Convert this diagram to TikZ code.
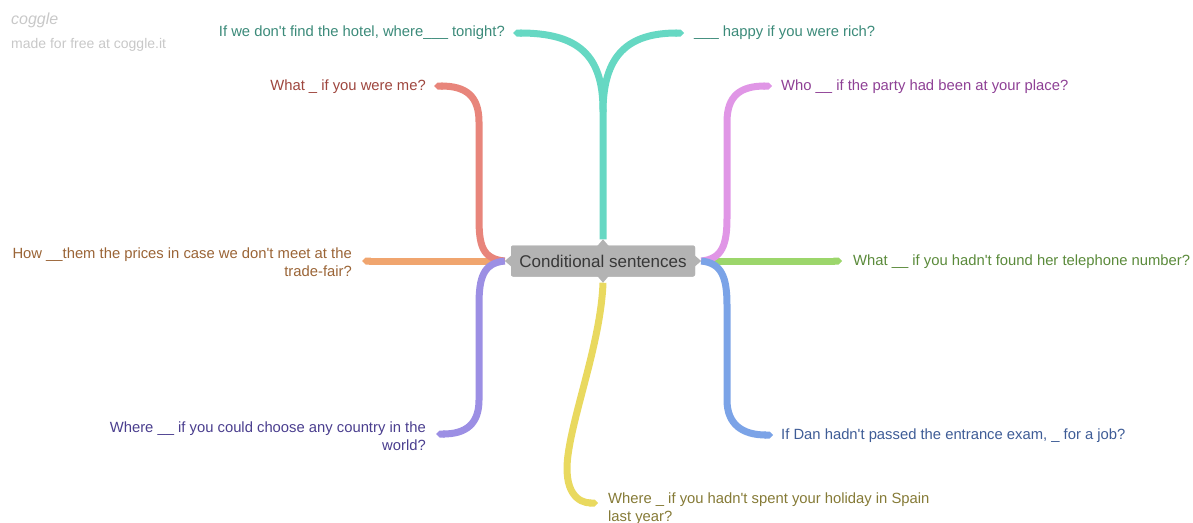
\documentclass[tikz,border=0pt]{standalone}
\usepackage{fontspec}
\setmainfont{Liberation Sans}[Ligatures=TeXOff]
\usetikzlibrary{arrows.meta,calc}

% branch colours and their darker text tones
\definecolor{brTeal}{HTML}{66D8C3}
\definecolor{txTeal}{HTML}{3B8A79}
\definecolor{brRed}{HTML}{E8857B}
\definecolor{txRed}{HTML}{9E463E}
\definecolor{brOrange}{HTML}{F0A56F}
\definecolor{txOrange}{HTML}{9A6436}
\definecolor{brPurple}{HTML}{9C8FE4}
\definecolor{txPurple}{HTML}{4A3E8E}
\definecolor{brYellow}{HTML}{E9D95F}
\definecolor{txYellow}{HTML}{857A36}
\definecolor{brPink}{HTML}{E096E6}
\definecolor{txPink}{HTML}{8E4095}
\definecolor{brGreen}{HTML}{9CD66B}
\definecolor{txGreen}{HTML}{5A8A3A}
\definecolor{brBlue}{HTML}{7BA3E7}
\definecolor{txBlue}{HTML}{3E5C96}
\definecolor{boxGray}{HTML}{B3B3B3}
\definecolor{boxText}{HTML}{383838}
\definecolor{markGray}{HTML}{C8C8C8}

\begin{document}
\begin{tikzpicture}[x=1pt,y=-1pt,
  branch/.style={line width=7pt,line cap=butt,-{Triangle Cap[]}},
  lbl/.style={inner sep=0pt,font=\fontsize{14.8}{18}\selectfont},
  topic/.style={fill=boxGray,rounded corners=2pt,minimum width=184pt,
    minimum height=31pt,inner sep=0pt,text=boxText,font=\fontsize{17}{19}\selectfont},
  notch/.style={fill=boxGray},
  wmark/.style={inner sep=0pt,anchor=west,text=markGray}]
\useasboundingbox (0,0) rectangle (1193,522);

% watermark
\node[wmark,font=\fontsize{16}{18}\selectfont\itshape] (wm1) at (11,20) {coggle};
\node[wmark,font=\fontsize{14}{16}\selectfont] (wm2) at (11,45) {made for free at coggle.it};

% central topic
\node[topic] (c) at (603,261) {Conditional sentences};
\coordinate (cn) at ($(c.north)+(0,-6)$);
\coordinate (cs) at ($(c.south)+(0,6)$);
\coordinate (cw) at ($(c.west)+(-6,0)$);
\coordinate (ce) at ($(c.east)+(6,0)$);

% labels
\node[lbl,anchor=east,text=txTeal] (l1) at (505,33) {If we don't find the hotel, where\_\_\_ tonight?};
\node[lbl,anchor=west,text=txTeal] (l2) at (694,33) {\_\_\_ happy if you were rich?};
\node[lbl,anchor=east,text=txRed] (l3) at (426,87) {What \_ if you were me?};
\node[lbl,anchor=west,text=txPink] (l4) at (781,87) {Who \_\_ if the party had been at your place?};
\node[lbl,anchor=east,align=right,text=txOrange] (l5) at (352,262) {How \_\_them the prices in case we don't meet at the\\trade-fair?};
\node[lbl,anchor=west,text=txGreen] (l6) at (853,262) {What \_\_ if you hadn't found her telephone number?};
\node[lbl,anchor=east,align=right,text=txPurple] (l7) at (426,436) {Where \_\_ if you could choose any country in the\\world?};
\node[lbl,anchor=west,text=txBlue] (l8) at (781,436) {If Dan hadn't passed the entrance exam, \_ for a job?};
\node[lbl,anchor=west,align=left,text=txYellow] (l9) at (608,509) {Where \_ if you hadn't spent your holiday in Spain\\last year?};

% branch tips
\coordinate (t1) at (513,33);
\coordinate (t2) at (684,33);
\coordinate (t3) at (434,86);
\coordinate (t4) at (772,86);
\coordinate (t5) at (362,261);
\coordinate (t6) at (842,261);
\coordinate (t7) at (436,434);
\coordinate (t8) at (773,435);
\coordinate (t9) at (598,503);

% branches
\draw[branch,brOrange] ($(cw)+(-2,0)$) -- (t5);
\draw[branch,brRed] (cw) .. controls (482,259) and (479,245) .. (479,218)
  -- (479,122) .. controls (479,96) and (466,86) .. (t3);
\draw[branch,brPurple] (cw) .. controls (483,263) and (479,278) .. (479,305)
  -- (479,400) .. controls (479,424) and (466,434) .. (t7);
\draw[branch,brGreen] ($(ce)+(12,0)$) -- (t6);
\draw[branch,brPink] (ce) .. controls (722,259) and (727,245) .. (727,218)
  -- (727,122) .. controls (727,96) and (740,86) .. (t4);
\draw[branch,brBlue] (ce) .. controls (722,263) and (727,278) .. (727,305)
  -- (727,400) .. controls (727,424) and (742,435) .. (t8);
\draw[branch,brTeal] (cn) -- (603,110) .. controls (603,55) and (578,33) .. (t1);
\draw[branch,brTeal] (603,112) .. controls (603,55) and (628,33) .. (t2);
\draw[branch,brYellow] (cs) .. controls (601,340) and (574,410) .. (568,455)
  .. controls (563,492) and (578,503) .. (t9);

% topic on top, with its four notches
\node[topic] at (c) {Conditional sentences};
\fill[notch] ($(c.north)+(-6,1)$) -- (cn) -- ($(c.north)+(6,1)$) -- cycle;
\fill[notch] ($(c.south)+(-6,-1)$) -- (cs) -- ($(c.south)+(6,-1)$) -- cycle;
\fill[notch] ($(c.west)+(1,-6)$) -- (cw) -- ($(c.west)+(1,6)$) -- cycle;
\fill[notch] ($(c.east)+(-1,-6)$) -- (ce) -- ($(c.east)+(-1,6)$) -- cycle;
\end{tikzpicture}
\end{document}
